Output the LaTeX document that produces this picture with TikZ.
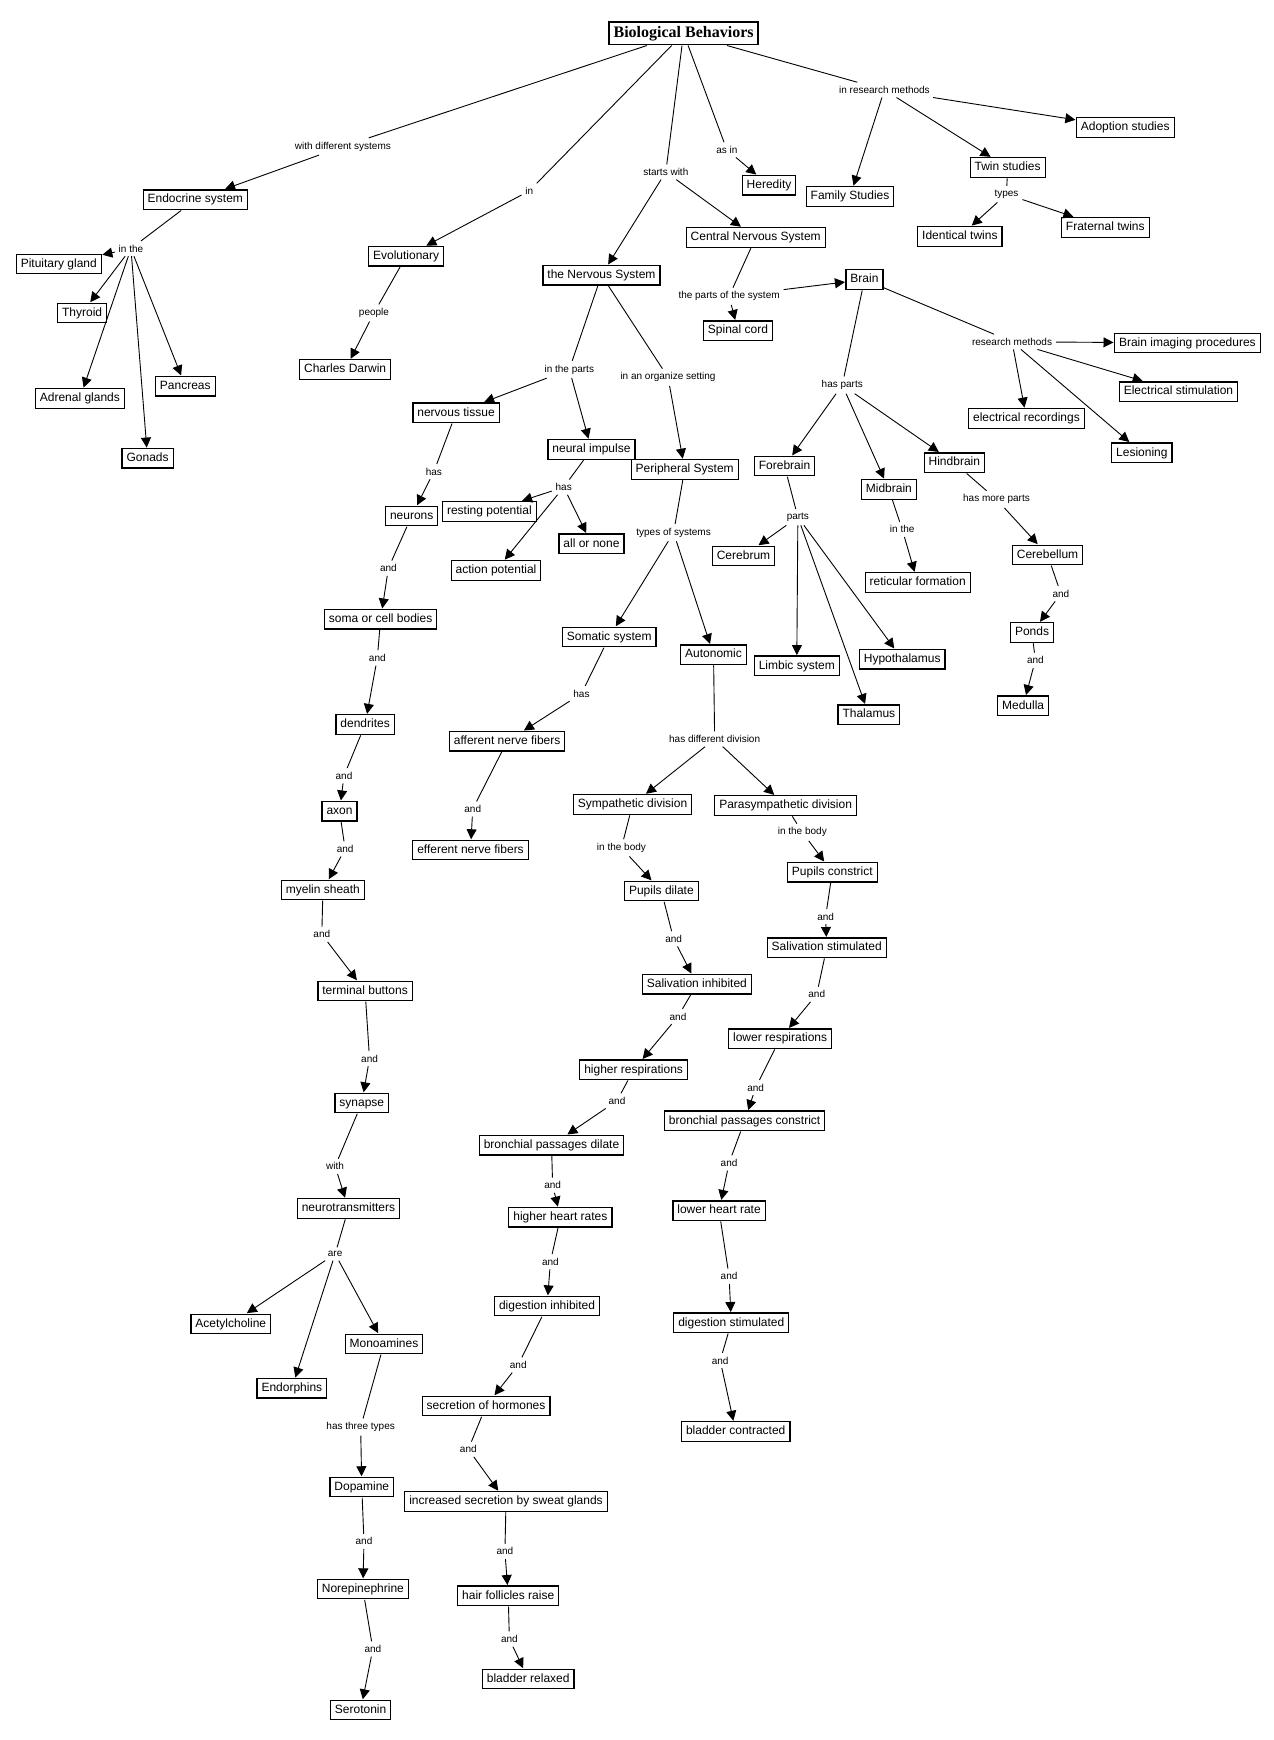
\documentclass[tikz,border=0pt]{standalone}
\usepackage{fontspec}
\setmainfont{Liberation Sans}
\newfontfamily\titlefont{Liberation Serif}
\usetikzlibrary{arrows.meta}

\begin{document}
\begin{tikzpicture}[x=1.1098pt,y=-1.1098pt,line width=0.9pt,
concept/.style={draw,line width=1.2pt,font=\fontsize{12}{14}\selectfont,inner xsep=4.5pt,inner ysep=4pt,text height=9pt,text depth=2.5pt,outer sep=1pt},
lbl/.style={font=\fontsize{10}{12}\selectfont,inner sep=3.5pt},
arr/.style={-{Triangle[length=10pt,width=10pt]}}]

\useasboundingbox (0,0) rectangle (1148,1568);

%%%%%%%%%%%%%%%%%%%%%%%%%%%%%%%%%%%%%%%%%%%%%%%%%%%%%%%%%%
% TITLE
%%%%%%%%%%%%%%%%%%%%%%%%%%%%%%%%%%%%%%%%%%%%%%%%%%%%%%%%%%

\node[concept,font=\titlefont\bfseries\fontsize{16}{18}\selectfont,text height=11pt,text depth=3.5pt](bio) at (616,30) {Biological Behaviors};

\node[lbl](lwith) at (309,132) {with different systems};
\node[lbl](lin) at (477,172) {in};
\node[lbl](lstarts) at (600,155) {starts with};
\node[lbl](lasin) at (655,135) {as in};
\node[lbl](lresearch) at (797,81) {in research methods};

%%%%%%%%%%%%%%%%%%%%%%%%%%%%%%%%%%%%%%%%%%%%%%%%%%%%%%%%%%
% ENDOCRINE AND EVOLUTIONARY
%%%%%%%%%%%%%%%%%%%%%%%%%%%%%%%%%%%%%%%%%%%%%%%%%%%%%%%%%%

\node[concept](endo) at (176,180) {Endocrine system};
\node[lbl](linthe) at (118,224) {in the};
\node[concept](pit) at (53,238) {Pituitary gland};
\node[concept](thy) at (74,282) {Thyroid};
\node[concept](adr) at (72,359) {Adrenal glands};
\node[concept](pan) at (167,348) {Pancreas};
\node[concept](gon) at (133,413) {Gonads};

\node[concept](evo) at (366,231) {Evolutionary};
\node[lbl](lpeople) at (337,282) {people};
\node[concept](darwin) at (311,333) {Charles Darwin};

%%%%%%%%%%%%%%%%%%%%%%%%%%%%%%%%%%%%%%%%%%%%%%%%%%%%%%%%%%
% HEREDITY AND RESEARCH METHODS
%%%%%%%%%%%%%%%%%%%%%%%%%%%%%%%%%%%%%%%%%%%%%%%%%%%%%%%%%%

\node[concept](hered) at (693,167) {Heredity};
\node[concept](family) at (766,177) {Family Studies};
\node[concept](twin) at (908,151) {Twin studies};
\node[concept](adopt) at (1014,115) {Adoption studies};
\node[lbl](ltypes) at (907,175) {types};
\node[concept](ident) at (865,213) {Identical twins};
\node[concept](frat) at (996,205) {Fraternal twins};

%%%%%%%%%%%%%%%%%%%%%%%%%%%%%%%%%%%%%%%%%%%%%%%%%%%%%%%%%%
% CENTRAL NERVOUS SYSTEM
%%%%%%%%%%%%%%%%%%%%%%%%%%%%%%%%%%%%%%%%%%%%%%%%%%%%%%%%%%

\node[concept](cns) at (681,214) {Central Nervous System};
\node[lbl](lsysparts) at (657,267) {the parts of the system};
\node[concept](spinal) at (665,298) {Spinal cord};
\node[concept](brain) at (779,252) {Brain};
\node[lbl](lbrainres) at (912,308) {research methods};
\node[concept](imaging) at (1070,309) {Brain imaging procedures};
\node[concept](stim) at (1062,353) {Electrical stimulation};
\node[concept](record) at (925,377) {electrical recordings};
\node[concept](lesion) at (1029,408) {Lesioning};

\node[lbl](lhasparts) at (759,347) {has parts};
\node[concept](fore) at (707,420) {Forebrain};
\node[concept](mid) at (801,441) {Midbrain};
\node[concept](hind) at (860,417) {Hindbrain};
\node[lbl](lparts) at (719,466) {parts};
\node[concept](cerebrum) at (670,501) {Cerebrum};
\node[concept](limbic) at (718,600) {Limbic system};
\node[concept](thal) at (783,644) {Thalamus};
\node[concept](hypo) at (813,594) {Hypothalamus};
\node[lbl](lmidin) at (813,477) {in the};
\node[concept](retic) at (827,525) {reticular formation};
\node[lbl](lmore) at (898,450) {has more parts};
\node[concept](cbell) at (944,500) {Cerebellum};
\node[lbl](land1) at (956,535) {and};
\node[concept](ponds) at (930,570) {Ponds};
\node[lbl](land2) at (933,595) {and};
\node[concept](medulla) at (922,636) {Medulla};

%%%%%%%%%%%%%%%%%%%%%%%%%%%%%%%%%%%%%%%%%%%%%%%%%%%%%%%%%%
% NERVOUS SYSTEM PARTS
%%%%%%%%%%%%%%%%%%%%%%%%%%%%%%%%%%%%%%%%%%%%%%%%%%%%%%%%%%

\node[concept](ns) at (542,248) {the Nervous System};
\node[lbl](linparts) at (513,333) {in the parts};
\node[lbl](lorganize) at (602,340) {in an organize setting};
\node[concept](tissue) at (411,372) {nervous tissue};
\node[lbl](lhas1) at (391,425) {has};
\node[concept](neurons) at (371,465) {neurons};
\node[concept](impulse) at (533,405) {neural impulse};
\node[lbl](lhas2) at (508,439) {has};
\node[concept](rest) at (441,461) {resting potential};
\node[concept](allnone) at (533,490) {all or none};
\node[concept](action) at (447,514) {action potential};

\node[lbl](land3) at (350,512) {and};
\node[concept](soma) at (343,558) {soma or cell bodies};
\node[lbl](land4) at (340,593) {and};
\node[concept](dend) at (329,653) {dendrites};
\node[lbl](land5) at (310,699) {and};
\node[concept](axon) at (306,731) {axon};
\node[lbl](land6) at (311,765) {and};
\node[concept](myelin) at (291,802) {myelin sheath};
\node[lbl](land7) at (290,842) {and};
\node[concept](term) at (329,893) {terminal buttons};
\node[lbl](land8) at (333,954) {and};
\node[concept](synapse) at (326,994) {synapse};
\node[lbl](lwith2) at (302,1051) {with};
\node[concept](neurotr) at (314,1089) {neurotransmitters};
\node[lbl](lare) at (302,1130) {are};
\node[concept](acetyl) at (208,1193) {Acetylcholine};
\node[concept](endor) at (263,1251) {Endorphins};
\node[concept](mono) at (346,1211) {Monoamines};
\node[lbl](lthree) at (325,1286) {has three types};
\node[concept](dopa) at (326,1340) {Dopamine};
\node[lbl](land9) at (328,1389) {and};
\node[concept](norep) at (327,1432) {Norepinephrine};
\node[lbl](land10) at (336,1486) {and};
\node[concept](sero) at (325,1541) {Serotonin};

%%%%%%%%%%%%%%%%%%%%%%%%%%%%%%%%%%%%%%%%%%%%%%%%%%%%%%%%%%
% PERIPHERAL SYSTEM
%%%%%%%%%%%%%%%%%%%%%%%%%%%%%%%%%%%%%%%%%%%%%%%%%%%%%%%%%%

\node[concept](ps) at (617,423) {Peripheral System};
\node[lbl](lsystypes) at (607,480) {types of systems};
\node[concept](somatic) at (549,574) {Somatic system};
\node[concept](auto) at (643,590) {Autonomic};
\node[lbl](lhas3) at (524,625) {has};
\node[concept](aff) at (457,668) {afferent nerve fibers};
\node[lbl](land11) at (426,729) {and};
\node[concept](eff) at (424,766) {efferent nerve fibers};
\node[lbl](ldiv) at (644,666) {has different division};
\node[concept](symp) at (570,725) {Sympathetic division};
\node[concept](para) at (708,726) {Parasympathetic division};

% sympathetic
\node[lbl](lbody1) at (560,764) {in the body};
\node[concept](pdil) at (596,803) {Pupils dilate};
\node[lbl](land12) at (607,846) {and};
\node[concept](salinh) at (628,887) {Salivation inhibited};
\node[lbl](land13) at (611,916) {and};
\node[concept](hresp) at (571,964) {higher respirations};
\node[lbl](land14) at (556,992) {and};
\node[concept](bdil) at (497,1032) {bronchial passages dilate};
\node[lbl](land15) at (498,1068) {and};
\node[concept](hheart) at (505,1097) {higher heart rates};
\node[lbl](land16) at (496,1137) {and};
\node[concept](dinh) at (493,1177) {digestion inhibited};
\node[lbl](land17) at (467,1230) {and};
\node[concept](horm) at (438,1267) {secretion of hormones};
\node[lbl](land18) at (422,1306) {and};
\node[concept](sweat) at (456,1353) {increased secretion by sweat glands};
\node[lbl](land19) at (455,1398) {and};
\node[concept](hair) at (458,1438) {hair follicles raise};
\node[lbl](land20) at (459,1477) {and};
\node[concept](brel) at (476,1513) {bladder relaxed};

% parasympathetic
\node[lbl](lbody2) at (723,750) {in the body};
\node[concept](pcon) at (750,786) {Pupils constrict};
\node[lbl](land21) at (744,826) {and};
\node[concept](salstim) at (745,854) {Salivation stimulated};
\node[lbl](land22) at (736,896) {and};
\node[concept](lresp) at (703,936) {lower respirations};
\node[lbl](land23) at (681,980) {and};
\node[concept](bcon) at (671,1010) {bronchial passages constrict};
\node[lbl](land24) at (657,1048) {and};
\node[concept](lheart) at (648,1091) {lower heart rate};
\node[lbl](land25) at (657,1150) {and};
\node[concept](dstim) at (659,1192) {digestion stimulated};
\node[lbl](land26) at (649,1226) {and};
\node[concept](bcontr) at (663,1290) {bladder contracted};

%%%%%%%%%%%%%%%%%%%%%%%%%%%%%%%%%%%%%%%%%%%%%%%%%%%%%%%%%%
% CONNECTIONS
%%%%%%%%%%%%%%%%%%%%%%%%%%%%%%%%%%%%%%%%%%%%%%%%%%%%%%%%%%

\draw (bio)--(lwith);
\draw (bio)--(lin);
\draw (bio)--(lstarts);
\draw (bio)--(lasin);
\draw (bio)--(lresearch);

\draw[arr](lwith)--(endo);
\draw[arr](lin)--(evo);
\draw[arr](lstarts)--(ns);
\draw[arr](lstarts)--(cns);
\draw[arr](lasin)--(hered);
\draw[arr](lresearch)--(family);
\draw[arr](lresearch)--(twin);
\draw[arr](lresearch)--(adopt);

\draw (endo)--(linthe);
\draw[arr](linthe)--(pit);
\draw[arr](linthe)--(thy);
\draw[arr](linthe)--(adr);
\draw[arr](linthe)--(gon);
\draw[arr](linthe)--(pan);

\draw (evo)--(lpeople);
\draw[arr](lpeople)--(darwin);

\draw (twin)--(ltypes);
\draw[arr](ltypes)--(ident);
\draw[arr](ltypes)--(frat);

\draw (cns)--(lsysparts);
\draw[arr](lsysparts)--(brain);
\draw[arr](lsysparts)--(spinal);
\draw (brain)--(lbrainres);
\draw[arr](lbrainres)--(imaging);
\draw[arr](lbrainres)--(stim);
\draw[arr](lbrainres)--(record);
\draw[arr](lbrainres)--(lesion);

\draw (brain)--(lhasparts);
\draw[arr](lhasparts)--(fore);
\draw[arr](lhasparts)--(mid);
\draw[arr](lhasparts)--(hind);
\draw (fore)--(lparts);
\draw[arr](lparts)--(cerebrum);
\draw[arr](lparts)--(limbic);
\draw[arr](lparts)--(thal);
\draw[arr](lparts)--(hypo);
\draw (mid)--(lmidin);
\draw[arr](lmidin)--(retic);
\draw (hind)--(lmore);
\draw[arr](lmore)--(cbell);
\draw (cbell)--(land1);
\draw[arr](land1)--(ponds);
\draw (ponds)--(land2);
\draw[arr](land2)--(medulla);

\draw (ns)--(linparts);
\draw (ns)--(lorganize);
\draw[arr](linparts)--(tissue);
\draw[arr](linparts)--(impulse);
\draw[arr](lorganize)--(ps);
\draw (tissue)--(lhas1);
\draw[arr](lhas1)--(neurons);
\draw (impulse)--(lhas2);
\draw[arr](lhas2)--(rest);
\draw[arr](lhas2)--(action);
\draw[arr](lhas2)--(allnone);

\draw (neurons)--(land3);
\draw[arr](land3)--(soma);
\draw (soma)--(land4);
\draw[arr](land4)--(dend);
\draw (dend)--(land5);
\draw[arr](land5)--(axon);
\draw (axon)--(land6);
\draw[arr](land6)--(myelin);
\draw (myelin)--(land7);
\draw[arr](land7)--(term);
\draw (term)--(land8);
\draw[arr](land8)--(synapse);
\draw (synapse)--(lwith2);
\draw[arr](lwith2)--(neurotr);
\draw (neurotr)--(lare);
\draw[arr](lare)--(acetyl);
\draw[arr](lare)--(endor);
\draw[arr](lare)--(mono);
\draw (mono)--(lthree);
\draw[arr](lthree)--(dopa);
\draw (dopa)--(land9);
\draw[arr](land9)--(norep);
\draw (norep)--(land10);
\draw[arr](land10)--(sero);

\draw (ps)--(lsystypes);
\draw[arr](lsystypes)--(somatic);
\draw[arr](lsystypes)--(auto);
\draw (somatic)--(lhas3);
\draw[arr](lhas3)--(aff);
\draw (aff)--(land11);
\draw[arr](land11)--(eff);
\draw (auto)--(ldiv);
\draw[arr](ldiv)--(symp);
\draw[arr](ldiv)--(para);

\draw (symp)--(lbody1);
\draw[arr](lbody1)--(pdil);
\draw (pdil)--(land12);
\draw[arr](land12)--(salinh);
\draw (salinh)--(land13);
\draw[arr](land13)--(hresp);
\draw (hresp)--(land14);
\draw[arr](land14)--(bdil);
\draw (bdil)--(land15);
\draw[arr](land15)--(hheart);
\draw (hheart)--(land16);
\draw[arr](land16)--(dinh);
\draw (dinh)--(land17);
\draw[arr](land17)--(horm);
\draw (horm)--(land18);
\draw[arr](land18)--(sweat);
\draw (sweat)--(land19);
\draw[arr](land19)--(hair);
\draw (hair)--(land20);
\draw[arr](land20)--(brel);

\draw (para)--(lbody2);
\draw[arr](lbody2)--(pcon);
\draw (pcon)--(land21);
\draw[arr](land21)--(salstim);
\draw (salstim)--(land22);
\draw[arr](land22)--(lresp);
\draw (lresp)--(land23);
\draw[arr](land23)--(bcon);
\draw (bcon)--(land24);
\draw[arr](land24)--(lheart);
\draw (lheart)--(land25);
\draw[arr](land25)--(dstim);
\draw (dstim)--(land26);
\draw[arr](land26)--(bcontr);

\end{tikzpicture}
\end{document}
